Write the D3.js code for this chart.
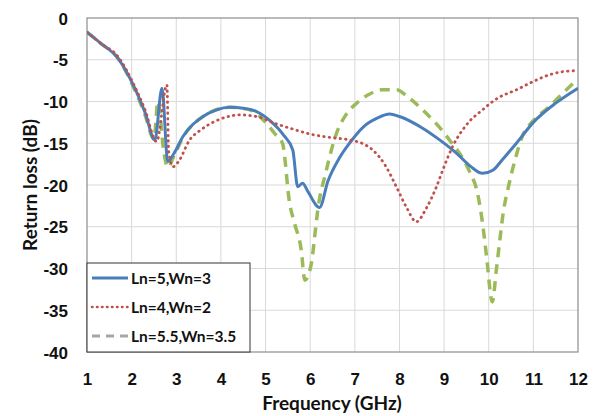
<!DOCTYPE html>
<html><head><meta charset="utf-8">
<script src="https://cdn.jsdelivr.net/npm/d3@7"></script>
<style>body{margin:0;background:#fff;}svg{display:block;font-family:Lato,"Open Sans",sans-serif;}</style>
</head><body>
<svg id="c" width="605" height="416"></svg>
<script>
const xTicks = [1,2,3,4,5,6,7,8,9,10,11,12];
const yTicks = [0,-5,-10,-15,-20,-25,-30,-35,-40];
const seriesNames = ["Ln=5,Wn=3","Ln=4,Wn=2","Ln=5.5,Wn=3.5"];
const blue = [[1,-1.7],[1.3,-3.0],[1.69,-4.8],[2.07,-8.4],[2.3,-11.3],[2.52,-14.6],[2.68,-8.4],[2.81,-17.2],[2.95,-16.2],[3.15,-14.2],[3.6,-11.8],[3.9,-11.0],[4.2,-10.7],[4.5,-10.8],[4.8,-11.2],[5.1,-12.3],[5.4,-14.0],[5.61,-15.8],[5.72,-20.2],[5.83,-19.8],[5.95,-20.8],[6.21,-22.7],[6.4,-19.5],[6.65,-16.8],[6.88,-15],[7.2,-13],[7.5,-12],[7.78,-11.5],[8.0,-11.8],[8.52,-13.2],[8.9,-14.6],[9.28,-16.2],[9.6,-17.8],[9.86,-18.6],[10.1,-18.2],[10.3,-17],[10.62,-15],[11.0,-12.5],[11.5,-10.2],[12,-8.4]];
const red = [[1,-1.7],[1.3,-3.0],[1.69,-4.6],[2.07,-8.2],[2.3,-11.0],[2.56,-14.8],[2.79,-8.0],[2.83,-16],[2.93,-17.8],[3.05,-17.2],[3.3,-14.6],[3.55,-13.4],[3.82,-12.5],[4.1,-11.9],[4.42,-11.6],[4.87,-11.9],[5.2,-12.6],[5.61,-13.3],[6.0,-13.9],[6.44,-14.3],[6.88,-14.6],[7.2,-15.1],[7.4,-15.8],[7.7,-17.8],[7.93,-20.2],[8.15,-22.6],[8.38,-24.4],[8.6,-22.8],[8.83,-20.2],[9.0,-17.8],[9.19,-15.4],[9.5,-12.8],[9.86,-11],[10.2,-9.6],[10.62,-8.6],[11.0,-7.6],[11.36,-6.8],[11.7,-6.4],[12,-6.3]];
const green = [[1,-1.7],[1.3,-3.0],[1.69,-4.8],[2.07,-8.6],[2.3,-11.6],[2.5,-14.5],[2.59,-10],[2.72,-16],[2.81,-17.9],[2.95,-16.5],[3.15,-14.3],[3.6,-11.8],[4.2,-10.7],[4.65,-11.0],[5.0,-12.5],[5.2,-13.8],[5.38,-15],[5.54,-22.2],[5.65,-24.6],[5.8,-27.8],[5.88,-31.4],[6.03,-29.3],[6.1,-26.2],[6.17,-23],[6.35,-18.5],[6.59,-13.8],[6.8,-11.6],[7.04,-10.2],[7.3,-9.2],[7.62,-8.6],[7.93,-8.6],[8.2,-9.5],[8.52,-11],[9.12,-14.6],[9.57,-18.4],[9.75,-21],[9.86,-24.5],[9.95,-28.5],[10.08,-34],[10.17,-30.2],[10.24,-27],[10.32,-23.5],[10.45,-20],[10.6,-16.8],[10.75,-14.2],[11.0,-12.3],[11.36,-10.6],[11.7,-8.8],[12,-7.3]];

const svg = d3.select("#c");
const L=87,R=578,T=18,B=352;
const x = d3.scaleLinear().domain([1,12]).range([L,R]);
const y = d3.scaleLinear().domain([-40,0]).range([B,T]);

// grid
svg.append("g").selectAll("line").data(xTicks.slice(1,-1)).join("line")
  .attr("x1",d=>x(d)).attr("x2",d=>x(d)).attr("y1",T).attr("y2",B)
  .attr("stroke","#d9d9d9").attr("stroke-width",1);
svg.append("g").selectAll("line").data(yTicks.slice(1,-1)).join("line")
  .attr("y1",d=>y(d)).attr("y2",d=>y(d)).attr("x1",L).attr("x2",R)
  .attr("stroke","#d9d9d9").attr("stroke-width",1);
svg.append("rect").attr("x",L).attr("y",T).attr("width",R-L).attr("height",B-T)
  .attr("fill","none").attr("stroke","#8c8c8c").attr("stroke-width",1.2);

// axes labels
const xa = d3.axisBottom(x).tickValues(xTicks).tickSize(0).tickPadding(0).tickFormat(d=>String(d));
const gx = svg.append("g").attr("transform",`translate(0,${B})`).call(xa);
gx.select(".domain").remove();
gx.selectAll("text").attr("dy",null).attr("y",33).attr("fill","#111")
  .style("font-size","17px").style("font-weight","bold");
const ya = d3.axisLeft(y).tickValues(yTicks).tickSize(0).tickPadding(0).tickFormat(d=>String(d));
const gy = svg.append("g").attr("transform",`translate(${L-19},0)`).call(ya);
gy.select(".domain").remove();
gy.selectAll("text").attr("dy","0.36em").attr("fill","#111")
  .style("font-size","17px").style("font-weight","bold");

svg.append("text").attr("x",332).attr("y",410).attr("text-anchor","middle")
  .style("font-size","19px").style("font-weight","bold").attr("fill","#111").text("Frequency (GHz)");
svg.append("text").attr("transform","translate(37,185) rotate(-90)").attr("text-anchor","middle")
  .style("font-size","19px").style("font-weight","bold").attr("fill","#111").text("Return loss (dB)");

// lines
const line = d3.line().x(d=>x(d[0])).y(d=>y(d[1])).curve(d3.curveMonotoneX);
svg.append("clipPath").attr("id","cp").append("rect").attr("x",L).attr("y",T).attr("width",R-L).attr("height",B-T);
const gl = svg.append("g").attr("clip-path","url(#cp)");
gl.append("path").datum(green).attr("d",line).attr("fill","none").attr("stroke","#9BBB59")
  .attr("stroke-width",3.5).attr("stroke-dasharray","10,7");
gl.append("path").datum(blue).attr("d",line).attr("fill","none").attr("stroke","#4A7EBB")
  .attr("stroke-width",3);
gl.append("path").datum(red).attr("d",line).attr("fill","none").attr("stroke","#C0504D")
  .attr("stroke-width",2.8).attr("stroke-dasharray","0.5,5").attr("stroke-linecap","round");

// legend
const lg = svg.append("g");
lg.append("rect").attr("x",L).attr("y",263).attr("width",163).attr("height",B-263)
  .attr("fill","#fff").attr("stroke","#333").attr("stroke-width",1);
const styles = [
  {c:"#4A7EBB",w:3,d:null,cap:"butt"},
  {c:"#C0504D",w:2.5,d:"0.5,4.5",cap:"round"},
  {c:"#a6a6a6",w:3,d:"8,6",cap:"butt"}
];
const ly = [278,307,336];
seriesNames.forEach((n,i)=>{
  const s=styles[i];
  const p = lg.append("line").attr("x1",92).attr("x2",128).attr("y1",ly[i]).attr("y2",ly[i])
    .attr("stroke",s.c).attr("stroke-width",s.w).attr("stroke-linecap",s.cap);
  if(s.d) p.attr("stroke-dasharray",s.d);
  lg.append("text").attr("x",131).attr("y",ly[i]).attr("dy","0.36em")
    .style("font-size","15.5px").style("font-weight","bold").attr("fill","#111").text(n);
});
</script>
</body></html>
